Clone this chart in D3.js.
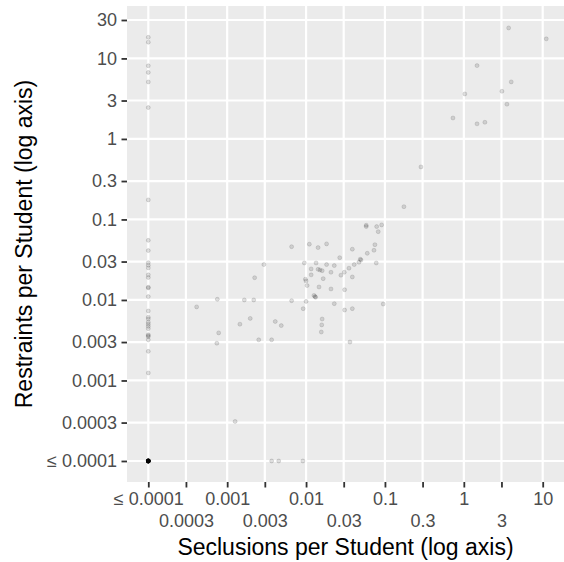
<!DOCTYPE html>
<html>
<head>
<meta charset="utf-8">
<script src="https://cdn.jsdelivr.net/npm/d3@7"></script>
<style>
  html, body { margin: 0; padding: 0; background: #ffffff; }
  svg { display: block; }
</style>
</head>
<body>
<svg id="chart" width="564" height="562"></svg>
<script>
// ---------- data ----------
// tick values and labels
const xTickValues = [1e-4, 3e-4, 1e-3, 3e-3, 0.01, 0.03, 0.1, 0.3, 1, 3, 10];
const xTickLabels = ["\u2264 0.0001", "0.0003", "0.001", "0.003", "0.01", "0.03", "0.1", "0.3", "1", "3", "10"];
const yTickValues = [1e-4, 3e-4, 1e-3, 3e-3, 0.01, 0.03, 0.1, 0.3, 1, 3, 10, 30];
const yTickLabels = ["\u2264 0.0001", "0.0003", "0.001", "0.003", "0.01", "0.03", "0.1", "0.3", "1", "3", "10", "30"];

// schools with seclusions at the floor (<= 0.0001): restraint values
const floorSeclusionRestraints = [18.3, 15.9, 8.1, 6.7, 5.1, 2.45, 0.175, 0.055, 0.041, 0.029, 0.027, 0.025,
  0.0205, 0.019, 0.0144, 0.0141, 0.011, 0.0073, 0.0061, 0.0058, 0.0053, 0.0050, 0.0047, 0.0044,
  0.0037, 0.0036, 0.0035, 0.0032, 0.0023, 0.00124];

// schools at the floor on both measures
const bothFloorCount = 25;

// remaining schools: seclusions and restraints per student
const seclusionValues = [0.00041, 0.00075, 0.00078, 0.00074, 0.00126, 0.00366, 0.0045, 0.0091, 0.00145, 0.00165,
  0.00196, 0.00217, 0.00223, 0.00251, 0.00292, 0.00366, 0.00407, 0.00485, 0.00656, 0.00656,
  0.0092, 0.0095, 0.0098, 0.0100, 0.0100, 0.0103, 0.0110, 0.0116, 0.0116, 0.0126,
  0.0130, 0.0132, 0.0134, 0.0142, 0.0142, 0.0146, 0.0150, 0.0156, 0.0158, 0.0160,
  0.0160, 0.0165, 0.0182, 0.0182, 0.0207, 0.0207, 0.0228, 0.0228, 0.0267, 0.0277,
  0.0305, 0.0308, 0.0308, 0.0350, 0.0360, 0.0386, 0.0386, 0.0386, 0.0408, 0.0468,
  0.0486, 0.0497, 0.0579, 0.0579, 0.0597, 0.0726, 0.0746, 0.0776, 0.0785, 0.0822,
  0.0908, 0.0951, 0.174, 0.286, 0.728, 1.03, 1.47, 1.47, 1.85, 3.04,
  3.52, 3.70, 3.99, 11.1];
const restraintValues = [0.0082, 0.0102, 0.0039, 0.0029, 0.00031, 0.0001, 0.0001, 0.0001, 0.0050, 0.0100,
  0.0059, 0.0100, 0.0189, 0.0032, 0.0275, 0.0032, 0.0054, 0.0048, 0.0459, 0.0098,
  0.0078, 0.0288, 0.0181, 0.0172, 0.0096, 0.0151, 0.0493, 0.0243, 0.0205, 0.0114,
  0.0110, 0.0108, 0.0288, 0.0447, 0.0240, 0.0145, 0.0236, 0.0040, 0.0049, 0.0231,
  0.0058, 0.0184, 0.0497, 0.0275, 0.0221, 0.0137, 0.0267, 0.0090, 0.0335, 0.0203,
  0.0221, 0.0134, 0.0075, 0.0248, 0.0030, 0.0427, 0.0193, 0.0078, 0.0275, 0.0294,
  0.0321, 0.0314, 0.0847, 0.0815, 0.0380, 0.0414, 0.0486, 0.0288, 0.0815, 0.0705,
  0.0855, 0.0089, 0.144, 0.449, 1.82, 3.62, 8.14, 1.54, 1.61, 3.91,
  2.70, 23.9, 5.11, 17.5];

const floorValue = 1e-4;

// ---------- layout ----------
const W = 564, H = 562;
const panel = { left: 127, right: 564, top: 6, bottom: 482 };
const FONT = "'Liberation Sans', Arial, Helvetica, sans-serif";

const svg = d3.select("#chart");

const x = d3.scaleLog()
  .domain([Math.pow(10, -4.27), Math.pow(10, 1.27)])
  .range([panel.left, panel.right]);
const y = d3.scaleLog()
  .domain([Math.pow(10, -4.261), Math.pow(10, 1.651)])
  .range([panel.bottom, panel.top]);

// panel background
svg.append("rect")
  .attr("x", panel.left).attr("y", panel.top)
  .attr("width", panel.right - panel.left)
  .attr("height", panel.bottom - panel.top)
  .attr("fill", "#EBEBEB");

// grid
const grid = svg.append("g");
grid.selectAll("line.v").data(xTickValues).enter().append("line")
  .attr("x1", d => x(d)).attr("x2", d => x(d))
  .attr("y1", panel.top).attr("y2", panel.bottom)
  .attr("stroke", "#ffffff").attr("stroke-width", 2.2);
grid.selectAll("line.h").data(yTickValues).enter().append("line")
  .attr("y1", d => y(d)).attr("y2", d => y(d))
  .attr("x1", panel.left).attr("x2", panel.right)
  .attr("stroke", "#ffffff").attr("stroke-width", 2.2);

// points
const pts = svg.append("g");
function addPoint(sx, ry) {
  pts.append("circle")
    .attr("cx", x(sx)).attr("cy", y(ry))
    .attr("r", 2.0)
    .attr("fill", "#000").attr("fill-opacity", 0.12)
    .attr("stroke", "#000").attr("stroke-opacity", 0.14)
    .attr("stroke-width", 0.8);
}
floorSeclusionRestraints.forEach(r => addPoint(floorValue, r));
seclusionValues.forEach((s, i) => addPoint(s, restraintValues[i]));
d3.range(bothFloorCount).forEach(() => addPoint(floorValue, floorValue));

// axes
const yAxis = d3.axisLeft(y)
  .tickValues(yTickValues)
  .tickFormat((d, i) => yTickLabels[i])
  .tickSize(5.5).tickPadding(4.5);
const gy = svg.append("g").attr("transform", `translate(${panel.left},0)`).call(yAxis);
gy.select(".domain").remove();
gy.selectAll(".tick line").attr("stroke", "#333333").attr("stroke-width", 1.8);
gy.selectAll(".tick text").attr("fill", "#4D4D4D").attr("font-size", 18).attr("font-family", FONT);

const xAxis = d3.axisBottom(x)
  .tickValues(xTickValues)
  .tickFormat((d, i) => xTickLabels[i])
  .tickSize(5.5).tickPadding(4.5);
const gx = svg.append("g").attr("transform", `translate(0,${panel.bottom})`).call(xAxis);
gx.select(".domain").remove();
gx.selectAll(".tick line").attr("stroke", "#333333").attr("stroke-width", 1.8);
gx.selectAll(".tick text")
  .attr("fill", "#4D4D4D").attr("font-size", 18).attr("font-family", FONT)
  .attr("dy", (d, i) => (i % 2 === 0 ? "0.71em" : "1.93em"));

// axis titles
svg.append("text")
  .attr("x", (panel.left + panel.right) / 2).attr("y", 555)
  .attr("text-anchor", "middle")
  .attr("font-family", FONT).attr("font-size", 23).attr("fill", "#000")
  .text("Seclusions per Student (log axis)");
svg.append("text")
  .attr("transform", `translate(31.5,${(panel.top + panel.bottom) / 2}) rotate(-90)`)
  .attr("text-anchor", "middle")
  .attr("font-family", FONT).attr("font-size", 23).attr("fill", "#000")
  .text("Restraints per Student (log axis)");
</script>
</body>
</html>
